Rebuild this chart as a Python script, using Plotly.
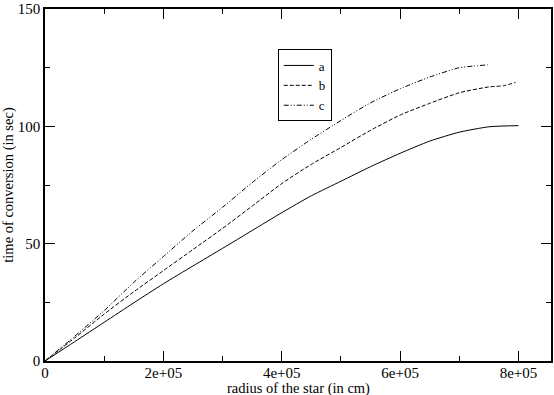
import plotly.graph_objects as go

# radius of the star (cm) and time of conversion (sec)
radius_a = [0, 5e4, 1e5, 1.5e5, 2e5, 2.5e5, 3e5, 3.5e5, 4e5, 4.5e5, 5e5, 5.5e5, 6e5, 6.5e5, 7e5, 7.5e5, 8e5]
time_a = [0, 8.2, 16.5, 24.8, 32.9, 40.5, 48, 55.6, 63.2, 70.4, 76.6, 82.8, 88.5, 93.7, 97.5, 99.8, 100.3]

radius_b = [0, 5e4, 1e5, 1.5e5, 2e5, 2.5e5, 3e5, 3.5e5, 4e5, 4.5e5, 5e5, 5.5e5, 6e5, 6.5e5, 7e5, 7.5e5, 7.75e5, 7.95e5]
time_b = [0, 9.8, 20, 29.5, 38.5, 47.5, 56.5, 66, 75.6, 83.8, 91, 98.3, 104.8, 109.8, 114.3, 116.8, 117.3, 118.7]

radius_c = [0, 5e4, 1e5, 1.5e5, 2e5, 2.5e5, 3e5, 3.5e5, 4e5, 4.5e5, 5e5, 5.5e5, 6e5, 6.5e5, 7e5, 7.25e5, 7.48e5]
time_c = [0, 10.5, 21.5, 33.5, 44.5, 55.5, 65.5, 76, 85.8, 94.5, 102.5, 110, 116, 121, 125, 125.7, 126.2]

x_tickvals = [0, 2e5, 4e5, 6e5, 8e5]
x_ticktext = ["0", "2e+05", "4e+05", "6e+05", "8e+05"]
y_tickvals = [0, 50, 100, 150]

serif = "Liberation Serif, Times New Roman, serif"

fig = go.Figure()
# each series with its own line style, all black
fig.add_trace(go.Scatter(x=radius_a, y=time_a, name="a", mode="lines",
                         line=dict(color="black", width=1, shape="spline", smoothing=0.6)))
fig.add_trace(go.Scatter(x=radius_b, y=time_b, name="b", mode="lines",
                         line=dict(color="black", width=1, dash="4px,2px", shape="spline", smoothing=0.6)))
fig.add_trace(go.Scatter(x=radius_c, y=time_c, name="c", mode="lines",
                         line=dict(color="black", width=1, dash="5px,2px,1px,2px,1px,2px",
                                   shape="spline", smoothing=0.6)))

axis_style = dict(showgrid=False, zeroline=False, showline=True, linecolor="black", linewidth=1.5,
                  mirror="ticks", ticks="inside", ticklen=10, tickcolor="black", tickwidth=1,
                  ticklabeloverflow="allow",
                  tickfont=dict(family=serif, size=15, color="black"))

fig.update_layout(
    width=554, height=395,
    margin=dict(l=45, r=1, t=7, b=34),
    plot_bgcolor="white", paper_bgcolor="white",
    font=dict(family=serif, size=14.5, color="black"),
    legend=dict(x=0.46, y=0.885, xanchor="left", yanchor="top",
                bordercolor="black", borderwidth=1, bgcolor="white",
                font=dict(family=serif, size=13),
                tracegroupgap=0, itemwidth=30),
)
fig.update_xaxes(range=[0, 8.55e5], tickvals=x_tickvals, ticktext=x_ticktext,
                 minor=dict(dtick=1e5, ticks="inside", ticklen=5, tickcolor="black"),
                 ticklabelstandoff=-3,
                 **axis_style)
fig.update_yaxes(range=[0, 150], tickvals=y_tickvals,
                 minor=dict(dtick=25, ticks="inside", ticklen=5, tickcolor="black"),
                 title=dict(text="time of conversion (in sec)", standoff=1,
                            font=dict(family=serif, size=14.5)),
                 **axis_style)

# x title as a plain annotation so it can sit tight under the tick labels
fig.add_annotation(text="radius of the star (in cm)", xref="paper", yref="paper",
                   x=0.5, y=0, yanchor="top", yshift=-17, showarrow=False,
                   font=dict(family=serif, size=14.5, color="black"))

# the page has a default body margin; drop it so the figure sits at the window's corner
fig.write_html("out.html", config={"displayModeBar": False},
               post_script="document.body.style.margin='0';")
